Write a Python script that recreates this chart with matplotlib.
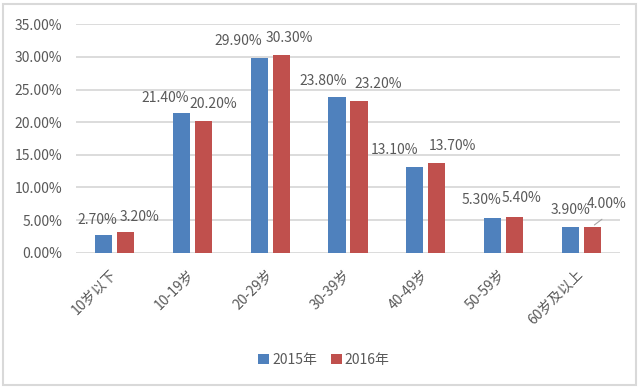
import matplotlib.pyplot as plt
import numpy as np
from matplotlib.patches import Rectangle

plt.rcParams['font.family'] = ['Noto Sans CJK SC', 'DejaVu Sans']

categories = ['10岁以下', '10-19岁', '20-29岁', '30-39岁', '40-49岁', '50-59岁', '60岁及以上']
v2015 = [2.7, 21.4, 29.9, 23.8, 13.1, 5.3, 3.9]
v2016 = [3.2, 20.2, 30.3, 23.2, 13.7, 5.4, 4.0]
series_names = ['2015年', '2016年']
yticks = [0, 5, 10, 15, 20, 25, 30, 35]

# label offsets in pixels (dx, dy above bar top)
off2015 = [(-7, 15), (-16, 15), (-21, 17), (-14, 16), (-20, 17), (-11, 18), (0, 17)]
off2016 = [(14, 15), (10, 17), (8, 17), (19, 17), (16, 17), (7, 19), (14, 23)]

blue = '#4F81BD'
red = '#C0504D'
txt = '#595959'
grid = '#D9D9D9'

fig = plt.figure(figsize=(6.4, 3.89), dpi=100)
ax = fig.add_axes([76 / 640, 1 - 252.7 / 389, 544 / 640, 228.4 / 389])

x = np.arange(len(categories))
w = 0.22
d = 0.142
ax.bar(x - d, v2015, w, color=blue, label=series_names[0], zorder=3)
ax.bar(x + d, v2016, w, color=red, label=series_names[1], zorder=3)

px = 72 / 100
for i in range(len(categories)):
    for val, xo, off in ((v2015[i], x[i] - d, off2015[i]), (v2016[i], x[i] + d, off2016[i])):
        ax.annotate('%.2f%%' % val, (xo, val), xytext=(off[0] * px, off[1] * px),
                    textcoords='offset points', ha='center', va='center',
                    fontsize=10, color=txt, zorder=4)

# leader line for the last red label
ax.annotate('', (x[6] + d, v2016[6]), xytext=(12 * px, 9 * px), textcoords='offset points',
            arrowprops=dict(arrowstyle='-', color='#A6A6A6', lw=0.8))

ax.set_xlim(-0.5, len(categories) - 0.5)
ax.set_ylim(0, 35)
ax.set_yticks(yticks)
ax.set_yticklabels(['%.2f%%' % t for t in yticks], fontsize=10, color=txt)
ax.set_xticks(x)
ax.set_xticklabels(categories, rotation=45, ha='right', va='center',
                   rotation_mode='anchor', fontsize=10, color=txt)
ax.tick_params(axis='both', length=0)
ax.tick_params(axis='y', pad=10)
ax.tick_params(axis='x', pad=14)
ax.grid(axis='y', color=grid, linewidth=1.3, zorder=0)
for s in ax.spines.values():
    s.set_visible(False)

leg = fig.legend(loc='center', bbox_to_anchor=(324 / 640, 1 - 360 / 389), ncol=2,
                 frameon=False, fontsize=10, handlelength=0.8, handleheight=0.8,
                 handletextpad=0.2, columnspacing=1.0, labelcolor=txt)

fig.patches.append(Rectangle((3 / 640, 4 / 389), 633 / 640, 381 / 389, transform=fig.transFigure,
                             fill=False, edgecolor=grid, linewidth=1.5))

fig.savefig('out.png', dpi=100, facecolor='white')
